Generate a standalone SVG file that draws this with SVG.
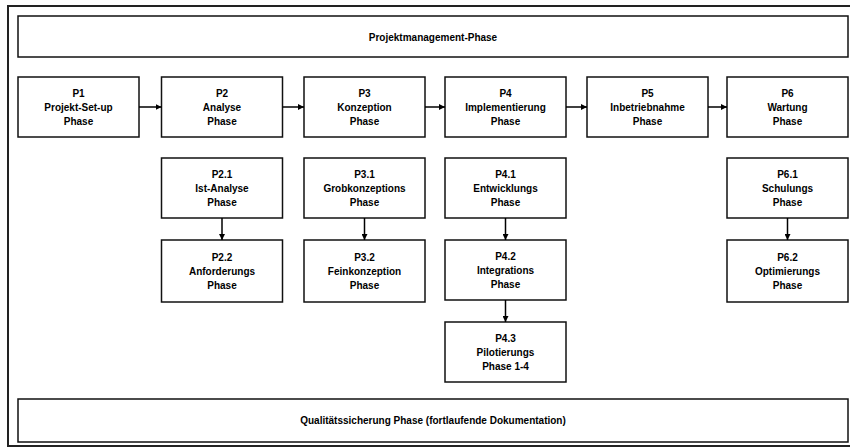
<svg xmlns="http://www.w3.org/2000/svg" width="850" height="448" viewBox="0 0 850 448">
<defs>
<marker id="arr" viewBox="0 0 10 10" refX="10" refY="5" markerWidth="6" markerHeight="6" orient="auto" markerUnits="userSpaceOnUse">
<path d="M0,0 L10,5 L0,10 z" fill="#000"/>
</marker>
<style>
.frame{fill:none;stroke:#222;stroke-width:2}
.box{fill:#fff;stroke:#111;stroke-width:1.5}
.t{font-family:"Liberation Sans",Arial,sans-serif;font-size:10px;font-weight:bold;fill:#000;text-anchor:middle}
.c{fill:none;stroke:#000;stroke-width:1.5;marker-end:url(#arr)}
</style>
</defs>
<rect width="850" height="448" fill="#fff"/>
<rect class="frame" x="8" y="6" width="860" height="440"/>

<g id="top">
<rect class="box" x="18" y="16" width="830" height="41"/>
<text class="t" x="433" y="40.5">Projektmanagement-Phase</text>
</g>

<g id="P1">
<rect class="box" x="18" y="77" width="121" height="60"/>
<text class="t" x="78.5" y="96.5">P1</text>
<text class="t" x="78.5" y="110.5">Projekt-Set-up</text>
<text class="t" x="78.5" y="124.5">Phase</text>
</g>
<g id="P2">
<rect class="box" x="161.5" y="77" width="121" height="60"/>
<text class="t" x="222" y="96.5">P2</text>
<text class="t" x="222" y="110.5">Analyse</text>
<text class="t" x="222" y="124.5">Phase</text>
</g>
<g id="P3">
<rect class="box" x="304" y="77" width="121" height="60"/>
<text class="t" x="364.5" y="96.5">P3</text>
<text class="t" x="364.5" y="110.5">Konzeption</text>
<text class="t" x="364.5" y="124.5">Phase</text>
</g>
<g id="P4">
<rect class="box" x="445" y="77" width="121" height="60"/>
<text class="t" x="505.5" y="96.5">P4</text>
<text class="t" x="505.5" y="110.5">Implementierung</text>
<text class="t" x="505.5" y="124.5">Phase</text>
</g>
<g id="P5">
<rect class="box" x="587" y="77" width="121" height="60"/>
<text class="t" x="647.5" y="96.5">P5</text>
<text class="t" x="647.5" y="110.5">Inbetriebnahme</text>
<text class="t" x="647.5" y="124.5">Phase</text>
</g>
<g id="P6">
<rect class="box" x="727" y="77" width="121" height="60"/>
<text class="t" x="787.5" y="96.5">P6</text>
<text class="t" x="787.5" y="110.5">Wartung</text>
<text class="t" x="787.5" y="124.5">Phase</text>
</g>

<g id="P2.1">
<rect class="box" x="161.5" y="158" width="121" height="60"/>
<text class="t" x="222" y="177.5">P2.1</text>
<text class="t" x="222" y="191.5">Ist-Analyse</text>
<text class="t" x="222" y="205.5">Phase</text>
</g>
<g id="P2.2">
<rect class="box" x="161.5" y="240" width="121" height="62"/>
<text class="t" x="222" y="260.5">P2.2</text>
<text class="t" x="222" y="274.5">Anforderungs</text>
<text class="t" x="222" y="288.5">Phase</text>
</g>
<g id="P3.1">
<rect class="box" x="304" y="158" width="121" height="60"/>
<text class="t" x="364.5" y="177.5">P3.1</text>
<text class="t" x="364.5" y="191.5">Grobkonzeptions</text>
<text class="t" x="364.5" y="205.5">Phase</text>
</g>
<g id="P3.2">
<rect class="box" x="304" y="240" width="121" height="62"/>
<text class="t" x="364.5" y="260.5">P3.2</text>
<text class="t" x="364.5" y="274.5">Feinkonzeption</text>
<text class="t" x="364.5" y="288.5">Phase</text>
</g>
<g id="P4.1">
<rect class="box" x="445" y="158" width="121" height="60"/>
<text class="t" x="505.5" y="177.5">P4.1</text>
<text class="t" x="505.5" y="191.5">Entwicklungs</text>
<text class="t" x="505.5" y="205.5">Phase</text>
</g>
<g id="P4.2">
<rect class="box" x="445" y="240" width="121" height="60"/>
<text class="t" x="505.5" y="259.5">P4.2</text>
<text class="t" x="505.5" y="273.5">Integrations</text>
<text class="t" x="505.5" y="287.5">Phase</text>
</g>
<g id="P4.3">
<rect class="box" x="445" y="322" width="121" height="60"/>
<text class="t" x="505.5" y="341.5">P4.3</text>
<text class="t" x="505.5" y="355.5">Pilotierungs</text>
<text class="t" x="505.5" y="369.5">Phase 1-4</text>
</g>
<g id="P6.1">
<rect class="box" x="727" y="158" width="121" height="60"/>
<text class="t" x="787.5" y="177.5">P6.1</text>
<text class="t" x="787.5" y="191.5">Schulungs</text>
<text class="t" x="787.5" y="205.5">Phase</text>
</g>
<g id="P6.2">
<rect class="box" x="727" y="240" width="121" height="62"/>
<text class="t" x="787.5" y="260.5">P6.2</text>
<text class="t" x="787.5" y="274.5">Optimierungs</text>
<text class="t" x="787.5" y="288.5">Phase</text>
</g>

<g id="bottom">
<rect class="box" x="18" y="399" width="830" height="43"/>
<text class="t" x="433" y="424">Qualitätssicherung Phase (fortlaufende Dokumentation)</text>
</g>

<g id="connectors">
<line class="c" x1="139" y1="107" x2="161.5" y2="107"/>
<line class="c" x1="282.5" y1="107" x2="304" y2="107"/>
<line class="c" x1="425" y1="107" x2="445" y2="107"/>
<line class="c" x1="566" y1="107" x2="587" y2="107"/>
<line class="c" x1="708" y1="107" x2="727" y2="107"/>
<line class="c" x1="222" y1="218" x2="222" y2="240"/>
<line class="c" x1="364.5" y1="218" x2="364.5" y2="240"/>
<line class="c" x1="505.5" y1="218" x2="505.5" y2="240"/>
<line class="c" x1="505.5" y1="300" x2="505.5" y2="322"/>
<line class="c" x1="787.5" y1="218" x2="787.5" y2="240"/>
</g>
</svg>
